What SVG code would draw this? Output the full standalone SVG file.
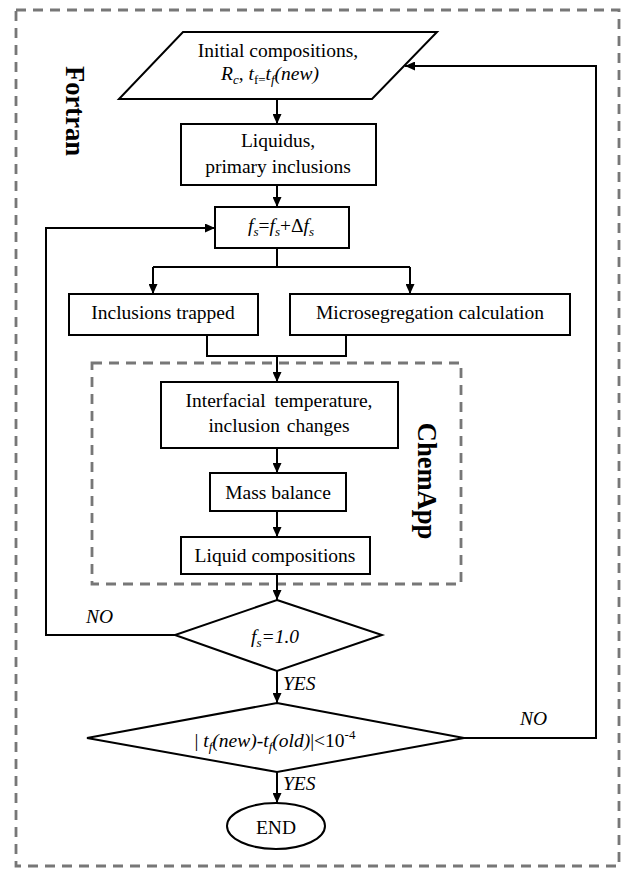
<svg xmlns="http://www.w3.org/2000/svg" width="624" height="870" viewBox="0 0 624 870">
<style>
.box{fill:#fff;stroke:#000;stroke-width:2}
.ln{fill:none;stroke:#000;stroke-width:2}
.arr{marker-end:url(#ah)}
.t{font-family:"Liberation Serif","Times New Roman",serif;font-size:19.5px;fill:#000;text-anchor:middle}
.i{font-style:italic}
.lab{font-family:"Liberation Serif","Times New Roman",serif;font-size:19.5px;font-style:italic;fill:#000}
.big{font-family:"Liberation Serif","Times New Roman",serif;font-size:26.5px;font-weight:bold;fill:#000;text-anchor:middle}
.dash{fill:none;stroke:#777;stroke-width:2.8;stroke-dasharray:10 7}
</style>
<defs>
<marker id="ah" markerUnits="userSpaceOnUse" markerWidth="11" markerHeight="9" refX="10" refY="4.5" orient="auto">
<path d="M0,0 L10,4.5 L0,9 z" fill="#000"/>
</marker>
</defs>
<rect width="624" height="870" fill="#fff"/>
<g id="fortran-frame">
<rect class="dash" x="16" y="10" width="603" height="856"/>
<text class="big" transform="translate(66,111) rotate(90)">Fortran</text>
</g>
<g id="chemapp-frame">
<rect class="dash" x="92" y="363" width="369" height="221"/>
<text class="big" transform="translate(418,481) rotate(90)">ChemApp</text>
</g>
<g id="connectors">
<line class="ln arr" x1="277" y1="99" x2="277" y2="124"/>
<line class="ln arr" x1="277" y1="185" x2="277" y2="207"/>
<polyline class="ln" points="277,248 277,267"/>
<line class="ln" x1="153" y1="267" x2="410" y2="267"/>
<line class="ln arr" x1="153" y1="267" x2="153" y2="294"/>
<line class="ln arr" x1="410" y1="267" x2="410" y2="294"/>
<polyline class="ln" points="207,335 207,356 346,356 346,335"/>
<line class="ln arr" x1="277" y1="356" x2="277" y2="382"/>
<line class="ln arr" x1="277" y1="448" x2="277" y2="473"/>
<line class="ln arr" x1="277" y1="511" x2="277" y2="537"/>
<line class="ln arr" x1="277" y1="574" x2="277" y2="600"/>
<line class="ln arr" x1="277" y1="671" x2="277" y2="703"/>
<line class="ln arr" x1="277" y1="772" x2="277" y2="803"/>
<polyline class="ln arr" points="175,635 46,635 46,228 215,228"/>
<polyline class="ln arr" points="464,738 596,738 596,66 405,66"/>
<text class="lab" x="86" y="623">NO</text>
<text class="lab" x="283" y="690">YES</text>
<text class="lab" x="520" y="725">NO</text>
<text class="lab" x="283" y="790">YES</text>
</g>
<g id="n-initial">
<polygon class="box" points="183,32 437,32 372,99 119,99"/>
<text class="t" x="278" y="57">Initial compositions,</text>
<text class="t i" x="270" y="80">R<tspan font-size="13" dy="4">c</tspan><tspan dy="-4" font-style="normal">, </tspan>t<tspan font-size="13" dy="4" font-style="normal">f=</tspan><tspan dy="-4">t</tspan><tspan font-size="13" dy="4">f</tspan><tspan dy="-4">(new)</tspan></text>
</g>
<g id="n-liquidus">
<rect class="box" x="181" y="124" width="195" height="61"/>
<text class="t" x="278" y="147">Liquidus,</text>
<text class="t" x="278" y="173">primary inclusions</text>
</g>
<g id="n-fs">
<rect class="box" x="215" y="207" width="134" height="41"/>
<text class="t" x="281" y="232"><tspan class="i">f</tspan><tspan class="i" font-size="13" dy="4">s</tspan><tspan dy="-4">=</tspan><tspan class="i">f</tspan><tspan class="i" font-size="13" dy="4">s</tspan><tspan dy="-4">+Δ</tspan><tspan class="i">f</tspan><tspan class="i" font-size="13" dy="4">s</tspan></text>
</g>
<g id="n-trapped">
<rect class="box" x="69" y="294" width="189" height="41"/>
<text class="t" x="163" y="319">Inclusions trapped</text>
</g>
<g id="n-micro">
<rect class="box" x="290" y="294" width="280" height="41"/>
<text class="t" x="430" y="319">Microsegregation calculation</text>
</g>
<g id="n-interfacial">
<rect class="box" x="161" y="382" width="237" height="66"/>
<text class="t" x="279" y="407" font-size="20.5" word-spacing="4">Interfacial temperature,</text>
<text class="t" x="279" y="432" font-size="20.5" word-spacing="2">inclusion changes</text>
</g>
<g id="n-mass">
<rect class="box" x="210" y="473" width="136" height="38"/>
<text class="t" x="278" y="499">Mass balance</text>
</g>
<g id="n-liquid">
<rect class="box" x="181" y="537" width="189" height="37"/>
<text class="t" x="275" y="562">Liquid compositions</text>
</g>
<g id="n-dec1">
<polygon class="box" points="277,600 382,635 277,671 175,635"/>
<text class="t i" x="275" y="643">f<tspan font-size="13" dy="4">s</tspan><tspan dy="-4">=1.0</tspan></text>
</g>
<g id="n-dec2">
<polygon class="box" points="277,703 464,738 277,772 87,738"/>
<text class="t" x="275" y="747">| <tspan class="i">t</tspan><tspan class="i" font-size="13" dy="4">f</tspan><tspan class="i" dy="-4">(new)-t</tspan><tspan class="i" font-size="13" dy="4">f</tspan><tspan class="i" dy="-4">(old)</tspan>|&lt;10<tspan font-size="13" dy="-8">-4</tspan></text>
</g>
<g id="n-end">
<ellipse class="box" cx="276" cy="826" rx="49" ry="23"/>
<text class="t" x="276" y="834">END</text>
</g>
</svg>
